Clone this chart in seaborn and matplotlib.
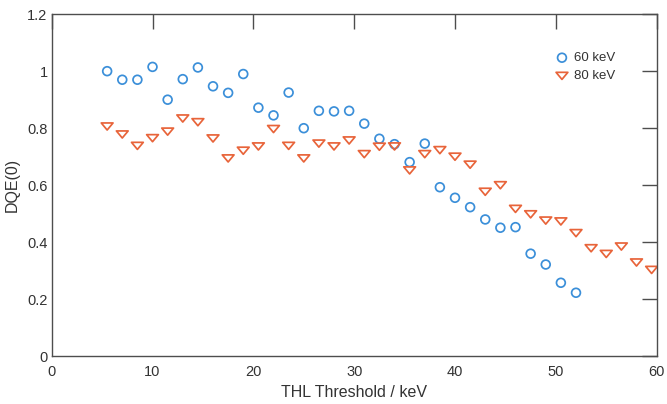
import matplotlib
matplotlib.use("Agg")
import matplotlib.pyplot as plt
from matplotlib.path import Path
import seaborn as sns
import pandas as pd

# THL threshold settings (keV) and measured DQE(0) for each tube energy
thresholds_60 = [5.5, 7, 8.5, 10, 11.5, 13, 14.5, 16, 17.5, 19, 20.5, 22, 23.5, 25,
                 26.5, 28, 29.5, 31, 32.5, 34, 35.5, 37, 38.5, 40, 41.5, 43, 44.5,
                 46, 47.5, 49, 50.5, 52]
dqe_60 = [1.00, 0.97, 0.97, 1.015, 0.90, 0.972, 1.013, 0.947, 0.924, 0.99, 0.872,
          0.845, 0.925, 0.80, 0.861, 0.859, 0.861, 0.816, 0.763, 0.744, 0.681, 0.746,
          0.593, 0.556, 0.523, 0.48, 0.451, 0.453, 0.36, 0.322, 0.258, 0.223]

thresholds_80 = [5.5, 7, 8.5, 10, 11.5, 13, 14.5, 16, 17.5, 19, 20.5, 22, 23.5, 25,
                 26.5, 28, 29.5, 31, 32.5, 34, 35.5, 37, 38.5, 40, 41.5, 43, 44.5,
                 46, 47.5, 49, 50.5, 52, 53.5, 55, 56.5, 58, 59.5]
dqe_80 = [0.806, 0.778, 0.738, 0.765, 0.788, 0.834, 0.821, 0.764, 0.694, 0.721, 0.736,
          0.797, 0.738, 0.694, 0.746, 0.736, 0.757, 0.709, 0.735, 0.736, 0.652, 0.709,
          0.723, 0.700, 0.672, 0.577, 0.600, 0.517, 0.498, 0.476, 0.473, 0.432, 0.379,
          0.359, 0.385, 0.329, 0.303]

series_labels = ["60 keV", "80 keV"]
x_ticks = [0, 10, 20, 30, 40, 50, 60]
y_ticks = [0, 0.2, 0.4, 0.6, 0.8, 1.0, 1.2]
y_tick_labels = ["0", "0.2", "0.4", "0.6", "0.8", "1", "1.2"]

df60 = pd.DataFrame({"THL": thresholds_60, "DQE": dqe_60})
df80 = pd.DataFrame({"THL": thresholds_80, "DQE": dqe_80})

sns.set_style("white")
plt.rcParams["font.family"] = ["Liberation Sans", "DejaVu Sans"]
text_color = "#333333"
axis_color = "#4d4d4d"
blue = "#3b8fd9"
orange = "#e8643a"

# a downward triangle, slightly wider than it is tall
wide_tri = Path([(-1.0, 0.6), (1.0, 0.6), (0.0, -0.6), (-1.0, 0.6)],
                [Path.MOVETO, Path.LINETO, Path.LINETO, Path.CLOSEPOLY])

fig = plt.figure(figsize=(6.67, 4.04), dpi=100)
ax = fig.add_axes([0.0775, 0.118, 0.907, 0.847])

sns.scatterplot(data=df60, x="THL", y="DQE", ax=ax, marker="o", s=40,
                color=blue, facecolor="none", edgecolor=blue, linewidth=1.25,
                label=series_labels[0])
sns.scatterplot(data=df80, x="THL", y="DQE", ax=ax, marker=wide_tri, s=72,
                color=orange, facecolor="none", edgecolor=orange, linewidth=1.25,
                label=series_labels[1])

ax.set_xlim(0, 60)
ax.set_ylim(0, 1.2)
ax.set_xticks(x_ticks)
ax.set_yticks(y_ticks)
ax.set_yticklabels(y_tick_labels)
ax.set_xlabel("THL Threshold / keV", fontsize=11.5, color=text_color, labelpad=4.5)
ax.set_ylabel("DQE(0)", fontsize=11.5, color=text_color, labelpad=5)

for side in ["left", "right", "top", "bottom"]:
    ax.spines[side].set_visible(True)
    ax.spines[side].set_color(axis_color)
    ax.spines[side].set_linewidth(1.0)
ax.tick_params(direction="in", length=10.5, width=1.0, colors=axis_color,
               top=True, right=True, labelsize=10.5, labelcolor=text_color)
ax.tick_params(axis="x", pad=6)
ax.tick_params(axis="y", pad=3)

leg = ax.legend(loc="upper right", bbox_to_anchor=(0.94, 0.905), frameon=False,
                fontsize=9.5, handletextpad=0.3, labelspacing=0.45,
                borderaxespad=0, handlelength=1.2)
for t in leg.get_texts():
    t.set_color(text_color)

fig.savefig("out.png", dpi=100)
